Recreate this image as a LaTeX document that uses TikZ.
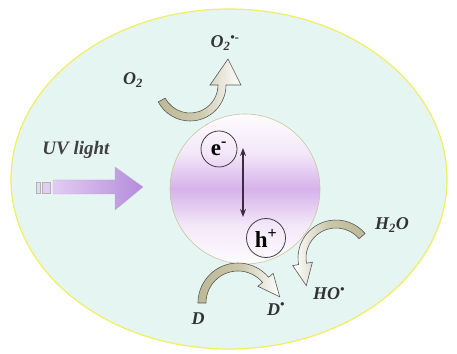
\documentclass[tikz,border=0pt]{standalone}
\usepackage{fontspec}
\setmainfont{Liberation Serif}
\usetikzlibrary{calc,arrows.meta,shapes.geometric}
\definecolor{bgcyan}{HTML}{E5F5F2}
\definecolor{rimyellow}{HTML}{F2EE60}
\definecolor{khaki}{HTML}{BDB894}
\definecolor{lav}{HTML}{D6B2EA}
\definecolor{uvlight}{HTML}{E2CCF2}
\definecolor{uvpurple}{HTML}{B48CDC}
\definecolor{darkarrow}{HTML}{3C2A40}
\definecolor{rimolive}{HTML}{C9C79A}
\pgfdeclareverticalshading{particleband}{100bp}{color(0bp)=(white); color(25bp)=(white!96!lav); color(38bp)=(white!70!lav); color(50bp)=(lav); color(62bp)=(white!70!lav); color(75bp)=(white!96!lav); color(100bp)=(white)}
\tikzset{
  lbl/.style={font=\fontsize{18}{20}\selectfont\bfseries\itshape, text=black!80, inner sep=0pt},
  uvlbl/.style={font=\fontsize{19}{21}\selectfont\bfseries\itshape, text=black!75, inner sep=0pt},
  carrier/.style={circle, draw=black!75, line width=0.8pt, inner sep=0pt, font=\fontsize{23}{25}\selectfont\bfseries},
  band/.style={draw=black!65, line width=0.6pt},
}
\begin{document}
\begin{tikzpicture}[x=1pt,y=1pt]
\useasboundingbox (0,0) rectangle (457,353);
\fill[white] (0,0) rectangle (457,353);
% outer medium
\node[ellipse, minimum width=436pt, minimum height=340pt, inner sep=0pt, fill=bgcyan, draw=rimyellow, line width=1.2pt] (medium) at (229,174) {};
% particle
\node[circle, minimum size=150pt, inner sep=0pt, shading=particleband, draw=rimolive, line width=0.6pt] (particle) at (245,164) {};
% charge carriers
\node[carrier, minimum size=36pt] (e) at (219,204) {e\textsuperscript{-}};
\node[carrier, minimum size=39pt] (h) at (266,115) {h\textsuperscript{+}};
\coordinate (etop) at (243,205);
\coordinate (hbot) at (243,136);
\draw[darkarrow, line width=1.8pt, {Stealth[length=8pt,width=6pt]}-{Stealth[length=8pt,width=6pt]}] (etop) -- (hbot);
% UV light
\node[uvlbl] (uv) at (76,203) {UV light};
\fill[uvlight!80!white, draw=black!30, line width=0.3pt] (36,160) rectangle (40,171);
\fill[uvlight, draw=black!30, line width=0.3pt] (42,160) rectangle (50,171);
\shade[left color=uvlight, right color=uvpurple, draw=uvpurple!80!black!60, line width=0.3pt]
  (53,159) -- (115,159) -- (115,143) -- (143,166) -- (115,186) -- (115,173) -- (53,173) -- cycle;
% O2 -> O2 radical anion arrow
\shade[band, left color=khaki, right color=white, middle color=khaki!75]
  ($(190,268)+(208:28)$) arc[start angle=208, end angle=360, radius=28pt]
  -- (210,268) -- (228,294) -- (241,268) -- (226,268)
  arc[start angle=360, end angle=208, radius=36pt] -- cycle;
\node[lbl] (o2) at (133,273) {O\textsubscript{2}};
\node[lbl] (o2r) at (225,310) {O\textsubscript{2}\textsuperscript{•-}};
% D -> D radical arrow
\shade[band, left color=khaki, right color=white, middle color=khaki!80]
  (206,50) arc[start angle=180, end angle=40, radius=32pt]
  -- (257.9,66.7) -- (279.7,56.2) -- (273.2,79.6) -- (268.6,75.7)
  arc[start angle=40, end angle=180, radius=40pt] -- cycle;
\node[lbl] (d) at (198,34) {D};
\node[lbl] (dr) at (276,44) {D\textsuperscript{•}};
% H2O -> HO radical arrow
\shade[band, left color=white, right color=khaki, middle color=khaki!80]
  (359.0,114.3) arc[start angle=40, end angle=190, radius=30pt]
  -- (312.4,90.8) -- (306.3,67.4) -- (292.7,87.4) -- (298.6,88.4)
  arc[start angle=190, end angle=40, radius=38pt] -- cycle;
\node[lbl] (h2o) at (392,128) {H\textsubscript{2}O};
\node[lbl] (ho) at (329,59) {HO\textsuperscript{•}};
\end{tikzpicture}
\end{document}
